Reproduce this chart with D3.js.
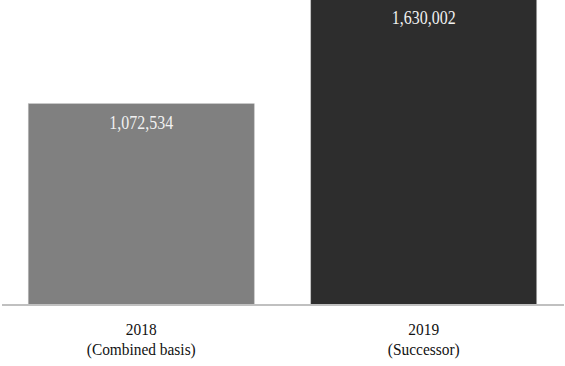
<!DOCTYPE html>
<html>
<head>
<meta charset="utf-8">
<script src="https://cdn.jsdelivr.net/npm/d3@7"></script>
<style>
  body { margin: 0; background: #fff; }
  svg { display: block; }
  svg text { font-family: "Liberation Serif", "Times New Roman", Times, serif; }
</style>
</head>
<body>
<div id="container"></div>
<script>
// Chart data
const years = ["2018", "2019"];
const subtitles = ["(Combined basis)", "(Successor)"];
const values = [1072534, 1630002];
const colours = ["#808080", "#2d2d2d"];

const width = 565;
const height = 366;
const baseline = 305;

const svg = d3.create("svg").attr("width", width).attr("height", height);
document.getElementById("container").appendChild(svg.node());

// x band scale for the two bars
const x = d3.scaleBand()
  .domain(years)
  .range([0, width])
  .paddingInner(0.2)
  .paddingOuter(0.1);

// y scale (tallest bar runs just past the top edge)
const y = d3.scaleLinear()
  .domain([0, 1072534])
  .range([baseline, 103.7]);

const cx = i => x(years[i]) + x.bandwidth() / 2;

// bars
svg.selectAll("rect.bar")
  .data(values)
  .enter()
  .append("rect")
  .attr("class", "bar")
  .attr("x", (d, i) => x(years[i]))
  .attr("y", d => y(d))
  .attr("width", x.bandwidth())
  .attr("height", d => baseline - y(d))
  .attr("fill", (d, i) => colours[i])
  .attr("stroke", "#bdbdbd")
  .attr("stroke-width", 0.6);

// baseline
svg.append("line")
  .attr("x1", 2)
  .attr("x2", 564)
  .attr("y1", baseline)
  .attr("y2", baseline)
  .attr("stroke", "#c0c0c0")
  .attr("stroke-width", 2);

// value labels inside the bars (source text is slightly condensed)
svg.selectAll("text.value")
  .data(values)
  .enter()
  .append("text")
  .attr("class", "value")
  .attr("transform", (d, i) => `translate(${cx(i)},${y(d) + 24.8}) scale(0.84,1)`)
  .attr("text-anchor", "middle")
  .attr("font-size", "19px")
  .attr("fill", "#f2f2f2")
  .text(d => d3.format(",")(d));

// category labels
const labels = svg.selectAll("g.cat")
  .data(years)
  .enter()
  .append("g")
  .attr("class", "cat")
  .attr("transform", (d, i) => `translate(${cx(i)},0) scale(0.88,1)`);

labels.append("text")
  .attr("y", 335.5)
  .attr("text-anchor", "middle")
  .attr("font-size", "17.5px")
  .attr("fill", "#111")
  .text(d => d);

labels.append("text")
  .attr("y", 355)
  .attr("text-anchor", "middle")
  .attr("font-size", "17.5px")
  .attr("fill", "#111")
  .text((d, i) => subtitles[i]);
</script>
</body>
</html>
